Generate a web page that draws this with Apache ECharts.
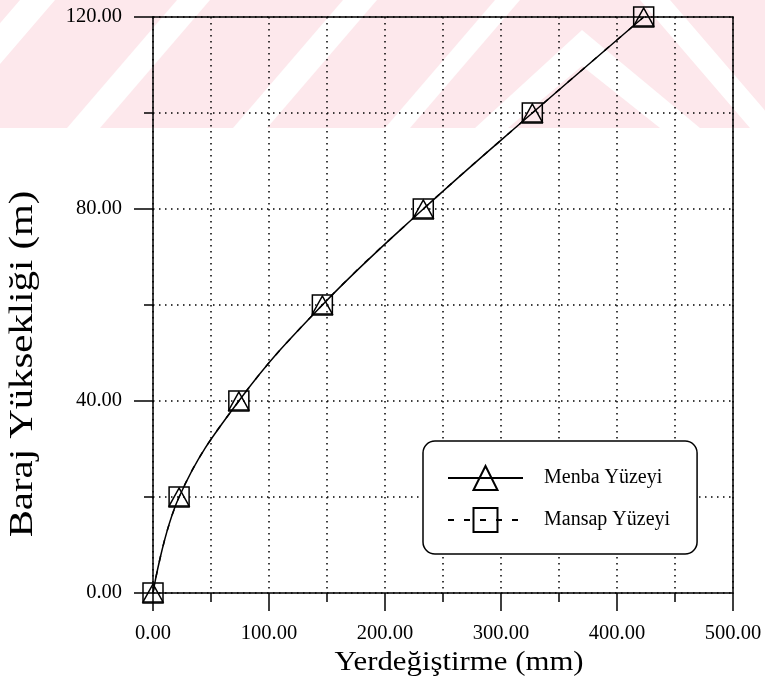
<!DOCTYPE html>
<html><head><meta charset="utf-8">
<script src="https://cdn.jsdelivr.net/npm/echarts@6/dist/echarts.min.js"></script>
<style>html,body{margin:0;padding:0;background:#fff}#c{width:765px;height:685px}</style>
</head><body><div id="c"></div>
<script>
// Data
const heights = [0, 20, 40, 60, 80, 100, 120];          // Baraj Yüksekliği (m)
const menbaDisp = [0, 22.5, 74, 146, 233, 327, 423];    // Menba Yüzeyi (mm)
const mansapDisp = [0, 22.5, 74, 146, 233, 327, 423];   // Mansap Yüzeyi (mm)
const seriesNames = ['Menba Yüzeyi', 'Mansap Yüzeyi'];
const xTitle = 'Yerdeğiştirme (mm)';
const yTitle = 'Baraj Yüksekliği (m)';

const FONT = 'Liberation Serif';
const dot = {color: '#000', type: [1.5, 4.5], width: 1.5};
const pink = '#fde8ec';

function wmPoly(points) {
  return {type: 'polygon', z: -100, silent: true, shape: {points}, style: {fill: '#fff'}};
}
const watermark = [
  {type: 'rect', z: -101, silent: true, shape: {x: 0, y: 0, width: 765, height: 128}, style: {fill: pink}},
  wmPoly([[-90,128],[-55,128],[55,0],[20,0]]),
  wmPoly([[67,128],[100,128],[210,0],[177,0]]),
  wmPoly([[233,128],[267,128],[377,0],[343,0]]),
  wmPoly([[385,128],[410,128],[520,0],[495,0]]),
  // chevron
  wmPoly([[475,128],[508,128],[582,66],[660,128],[700,128],[582,30]]),
  wmPoly([[640,0],[670,0],[780,128],[750,128]])
];

function seriesData(xs) { return xs.map((x, i) => [x, heights[i]]); }

const chart = echarts.init(document.getElementById('c'), null, {renderer: 'canvas'});
const axisLineStyle = {color: '#000', width: 1.5};
const labelStyle = {fontFamily: FONT, fontSize: 20.5, color: '#000'};
chart.setOption({
  backgroundColor: '#fff',
  animation: false,
  grid: {left: 153, right: 32, top: 17, bottom: 92, containLabel: false},
  graphic: watermark.concat([
    {type: 'text', z: 10, x: 23, y: 364, rotation: Math.PI / 2, scaleX: 1.2,
     style: {text: yTitle, font: '34px "' + FONT + '"', fill: '#000', textAlign: 'center', textVerticalAlign: 'middle'}},
    {type: 'text', z: 10, x: 459, y: 663, scaleX: 1.1,
     style: {text: xTitle, font: '28px "' + FONT + '"', fill: '#000', textAlign: 'center', textVerticalAlign: 'middle'}}
  ]),
  legend: {
    orient: 'vertical', left: 423, top: 441,
    padding: [24, 27, 21, 24], itemGap: 16, itemWidth: 75, itemHeight: 30,
    backgroundColor: '#fff', borderColor: '#000', borderWidth: 1.5, borderRadius: 12,
    textStyle: {fontFamily: FONT, fontSize: 20, color: '#000', padding: [0, 0, 0, 16]},
    data: seriesNames
  },
  xAxis: [{
    type: 'value', min: 0, max: 500, interval: 100, position: 'bottom',
    axisLine: {show: true, onZero: false, lineStyle: axisLineStyle},
    axisTick: {show: true, inside: false, length: 18, lineStyle: axisLineStyle},
    minorTick: {show: true, splitNumber: 2, length: 9, lineStyle: axisLineStyle},
    splitLine: {show: true, lineStyle: dot},
    minorSplitLine: {show: true, lineStyle: dot},
    axisLabel: Object.assign({margin: 30, formatter: v => v.toFixed(2)}, labelStyle)
  }, {
    type: 'value', min: 0, max: 500, position: 'top',
    axisLine: {show: true, onZero: false, lineStyle: axisLineStyle},
    axisTick: {show: false}, axisLabel: {show: false}, splitLine: {show: false}
  }],
  yAxis: [{
    type: 'value', min: 0, max: 120, interval: 40, position: 'left',
    axisLine: {show: true, onZero: false, lineStyle: axisLineStyle},
    axisTick: {show: true, inside: false, length: 19, lineStyle: axisLineStyle},
    minorTick: {show: true, splitNumber: 2, length: 9, lineStyle: axisLineStyle},
    splitLine: {show: true, lineStyle: dot},
    minorSplitLine: {show: true, lineStyle: dot},
    axisLabel: Object.assign({margin: 31, formatter: v => v.toFixed(2)}, labelStyle)
  }, {
    type: 'value', min: 0, max: 120, position: 'right',
    axisLine: {show: true, onZero: false, lineStyle: axisLineStyle},
    axisTick: {show: false}, axisLabel: {show: false}, splitLine: {show: false}
  }],
  series: [{
    name: seriesNames[0], type: 'line', smooth: 0.4, clip: false,
    data: seriesData(menbaDisp),
    symbol: 'triangle', symbolSize: [20, 18],
    itemStyle: {color: 'rgba(255,255,255,0)', borderColor: '#000', borderWidth: 1.5},
    lineStyle: {color: '#000', width: 1.5, type: 'solid'}
  }, {
    name: seriesNames[1], type: 'line', smooth: 0.4, clip: false,
    data: seriesData(mansapDisp),
    symbol: 'rect', symbolSize: 20,
    itemStyle: {color: 'rgba(255,255,255,0)', borderColor: '#000', borderWidth: 1.5},
    lineStyle: {color: '#000', width: 1.5, type: [6, 10]}
  }]
});
</script></body></html>
